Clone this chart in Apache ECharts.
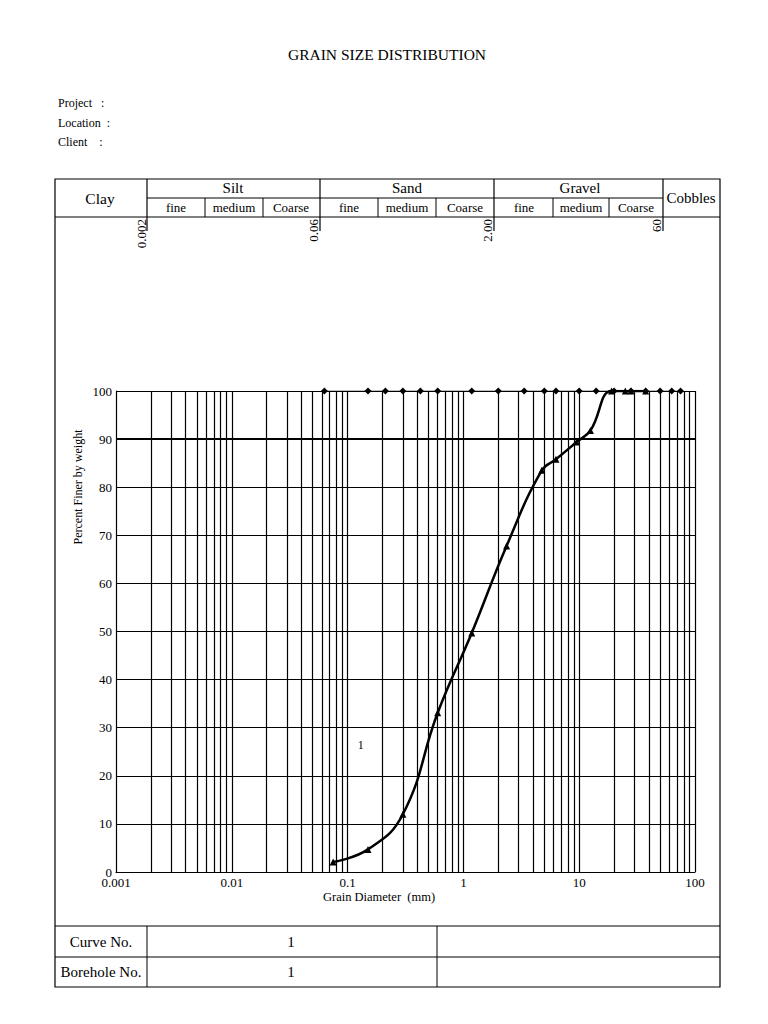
<!DOCTYPE html>
<html>
<head>
<meta charset="utf-8">
<script src="https://cdn.jsdelivr.net/npm/echarts@6/dist/echarts.min.js"></script>
<style>
html,body{margin:0;padding:0;background:#fff;}
#chart{width:768px;height:1024px;}
</style>
</head>
<body>
<div id="chart"></div>
<script>
// ---- data ----
var curveSizes = [0.075, 0.15, 0.3, 0.6, 1.18, 2.36, 4.75, 6.3, 9.5, 12.5, 19, 25, 28, 37.5];
var curvePassing = [2.1, 4.7, 12.0, 33.1, 49.7, 67.8, 83.5, 85.8, 89.4, 91.8, 100, 100, 100, 100];
var sieveSizes = [0.063, 0.15, 0.212, 0.3, 0.425, 0.6, 1.18, 2, 3.35, 5, 6.3, 10, 14, 20, 28, 37.5, 50, 63, 75];
var sievePassing = [100, 100, 100, 100, 100, 100, 100, 100, 100, 100, 100, 100, 100, 100, 100, 100, 100, 100, 100];
var curveLabel = [[0.13, 26.4, '1']];
var xTickLabels = ['0.001', '0.01', '0.1', '1', '10', '100'];
var yTicks = [0, 10, 20, 30, 40, 50, 60, 70, 80, 90, 100];
var mainClasses = ['Clay', 'Silt', 'Sand', 'Gravel', 'Cobbles'];
var subClasses = ['fine', 'medium', 'Coarse', 'fine', 'medium', 'Coarse', 'fine', 'medium', 'Coarse'];
var boundaryLabels = ['0.002', '0.06', '2.00', '60'];
var infoLabels = ['Project   :', 'Location  :', 'Client    :'];
var tableRows = [['Curve No.', '1'], ['Borehole No.', '1']];

// ---- layout ----
var FONT = '"Liberation Serif", "DejaVu Serif", serif';
var LINE = '#000';

// log grid lines: multiples 1..9 of each decade
var gridVals = [];
for (var d = -3; d <= 1; d++) {
  for (var m = 1; m <= 9; m++) {
    var v = parseFloat((m * Math.pow(10, d)).toPrecision(3));
    if (v > 0.0011) gridVals.push(v);
  }
}
gridVals.push(100);

function txt(x, y, s, size, align, vAlign, rot) {
  return {
    type: 'text', x: x, y: y, rotation: rot || 0, silent: true, z: 100,
    style: {
      text: s, x: 0, y: 0, fill: '#000',
      font: size + 'px ' + FONT, fontSize: size, fontFamily: FONT,
      align: align || 'center', verticalAlign: vAlign || 'middle',
      textAlign: align || 'center', textVerticalAlign: vAlign || 'middle'
    }
  };
}
function ln(x1, y1, x2, y2, w) {
  return { type: 'line', silent: true, shape: { x1: x1, y1: y1, x2: x2, y2: y2 },
           style: { stroke: LINE, lineWidth: w || 1 } };
}

var L = 55, R = 720;
var g = [];
// title & info
g.push(txt(387, 54, 'GRAIN SIZE DISTRIBUTION', 15.5));
g.push(txt(58, 103, infoLabels[0], 12, 'left'));
g.push(txt(58, 123, infoLabels[1], 12, 'left'));
g.push(txt(58, 142, infoLabels[2], 12, 'left'));
// outer frame
g.push({ type: 'rect', silent: true, shape: { x: L, y: 179, width: R - L, height: 987 - 179 },
         style: { fill: 'none', stroke: LINE, lineWidth: 1.2 } });
// header lines
g.push(ln(L, 217, R, 217));
g.push(ln(147, 198, 663, 198));
[147, 320, 494, 663].forEach(function (x) { g.push(ln(x, 179, x, 231, 1.2)); });
[205, 263, 378, 436, 553, 609].forEach(function (x) { g.push(ln(x, 198, x, 217)); });
// header texts
var mainX = [100, 233, 407, 580, 691];
var mainY = [198, 188, 188, 188, 198];
var mainSize = [15.5, 15, 15, 15, 15];
mainClasses.forEach(function (s, i) { g.push(txt(mainX[i], mainY[i], s, mainSize[i])); });
var subX = [176, 234, 291, 349, 407, 465, 524, 581, 636];
subClasses.forEach(function (s, i) { g.push(txt(subX[i], 207.5, s, 13)); });
// boundary labels (rotated)
var bX = [141, 313, 487, 656];
boundaryLabels.forEach(function (s, i) { g.push(txt(bX[i], 219, s, 13, 'right', 'middle', Math.PI / 2)); });
// axis titles
g.push(txt(78, 487, 'Percent Finer by weight', 12, 'center', 'middle', Math.PI / 2));
g.push(txt(379, 897, 'Grain Diameter  (mm)', 12.5));
// bottom table
g.push(ln(L, 926, R, 926));
g.push(ln(L, 957, R, 957));
g.push(ln(147, 926, 147, 987));
g.push(ln(437, 926, 437, 987));
tableRows.forEach(function (r, i) {
  var y = 941.5 + i * 30.5;
  g.push(txt(101, y, r[0], 15));
  g.push(txt(291, y, r[1], 15));
});

var chart = echarts.init(document.getElementById('chart'), null, { renderer: 'svg' });
chart.setOption({
  animation: false,
  backgroundColor: '#fff',
  textStyle: { fontFamily: FONT },
  grid: { left: 116, right: 73, top: 391, bottom: 152, containLabel: false },
  xAxis: {
    type: 'log', logBase: 10, min: 0.001, max: 100,
    axisLine: { show: true, lineStyle: { color: LINE, width: 1.2 } },
    axisTick: { show: false },
    splitLine: { show: false },
    axisLabel: {
      color: '#000', fontSize: 13, fontFamily: FONT, margin: 4,
      formatter: function (v) {
        var e = Math.round(Math.log10(v)) + 3;
        return xTickLabels[e] !== undefined ? xTickLabels[e] : '';
      }
    }
  },
  yAxis: {
    type: 'value', min: 0, max: 100, interval: 10,
    axisLine: { show: true, lineStyle: { color: LINE, width: 1.2 } },
    axisTick: { show: false },
    splitLine: { show: true, lineStyle: { color: LINE, width: 1.2 } },
    axisLabel: { color: '#000', fontSize: 13, fontFamily: FONT, margin: 4,
      formatter: function (v) { return yTicks.indexOf(v) >= 0 ? String(v) : ''; } }
  },
  graphic: { elements: g },
  series: [
    {
      type: 'line', data: [], z: 1, silent: true,
      markLine: {
        silent: true, symbol: ['none', 'none'], label: { show: false },
        lineStyle: { color: LINE, width: 1.2, type: 'solid' },
        data: gridVals.map(function (v) {
          return [{ coord: [v, 0] }, { coord: [v, 100] }];
        }).concat([
          [{ coord: [0.001, 90], lineStyle: { width: 2.2 } }, { coord: [100, 90] }]
        ])
      }
    },
    {
      name: 'sieves', type: 'line', z: 3,
      data: sieveSizes.map(function (s, i) { return [s, sievePassing[i]]; }),
      symbol: 'diamond', symbolSize: 7, showAllSymbol: true,
      itemStyle: { color: '#000' }, lineStyle: { color: '#000', width: 1.2 }
    },
    {
      name: 'curve 1', type: 'line', z: 4, smooth: 0.45,
      data: curveSizes.map(function (s, i) { return [s, curvePassing[i]]; }),
      symbol: 'triangle', symbolSize: 7, showAllSymbol: true,
      itemStyle: { color: '#000' }, lineStyle: { color: '#000', width: 2.5 }
    }
  ]
});

// curve number label placed through the chart's own scales
curveLabel.forEach(function (c) {
  var p = chart.convertToPixel({ gridIndex: 0 }, [c[0], c[1]]);
  g.push(txt(p[0], p[1], c[2], 12));
});
chart.setOption({ graphic: { elements: g } });
</script>
</body>
</html>
